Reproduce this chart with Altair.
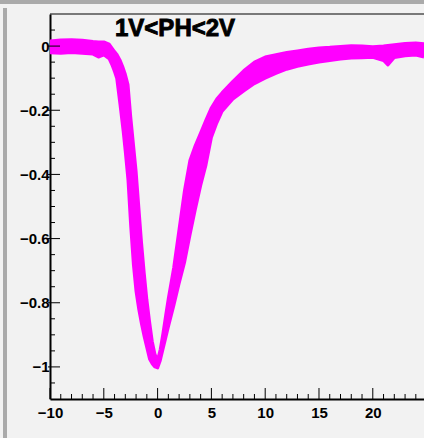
import altair as alt
import pandas as pd

# ---- data (band of overlapping pulses) ----
x_vals = [-10, -9, -8, -7, -6, -5.5, -5, -4.5, -4.2, -4, -3.8, -3.5, -3.2, -3, -2.75,
          -2.5, -2.25, -2, -1.75, -1.5, -1.25, -1, -0.75, -0.5, -0.25, 0, 0.25, 0.5, 0.75, 1,
          1.5, 2, 2.5, 3, 3.5, 4, 4.5, 5, 5.5, 6, 7, 8, 9, 10, 11, 12, 13, 14, 15, 16,
          17, 18, 19, 20, 21, 21.4, 22, 23, 24, 24.76]
band_top = [0.016, 0.019, 0.02, 0.018, 0.014, 0.013, 0.013, 0.006, -0.008, -0.017,
            -0.025, -0.043, -0.068, -0.088, -0.12, -0.22, -0.305, -0.39, -0.5, -0.61,
            -0.705, -0.79, -0.858, -0.92, -0.96, -0.978, -0.945, -0.895, -0.84, -0.786,
            -0.69, -0.57, -0.45, -0.357, -0.31, -0.27, -0.23, -0.192, -0.165, -0.145,
            -0.11, -0.077, -0.05, -0.034, -0.027, -0.02, -0.015, -0.01, -0.006, -0.004,
            -0.001, 0.001, 0.0, -0.002, 0.0, 0.002, 0.004, 0.008, 0.01, 0.007]
band_bottom = [-0.021, -0.022, -0.02, -0.022, -0.025, -0.034, -0.027, -0.04, -0.062, -0.08,
               -0.1, -0.18, -0.265, -0.33, -0.418, -0.56, -0.68, -0.765, -0.82, -0.865,
               -0.905, -0.94, -0.975, -0.99, -1.0, -1.003, -0.98, -0.945, -0.91, -0.875,
               -0.81, -0.74, -0.675, -0.59, -0.51, -0.435, -0.37, -0.285, -0.24, -0.203,
               -0.165, -0.14, -0.117, -0.1, -0.085, -0.072, -0.063, -0.056, -0.05, -0.045,
               -0.04, -0.037, -0.036, -0.035, -0.045, -0.059, -0.036, -0.03, -0.028, -0.034]

x_major = [-10, -5, 0, 5, 10, 15, 20]
x_minor = [-9, -8, -7, -6, -4, -3, -2, -1, 1, 2, 3, 4, 6, 7, 8, 9, 11, 12, 13, 14,
           16, 17, 18, 19, 21, 22, 23, 24]
y_major = [0, -0.2, -0.4, -0.6, -0.8, -1.0]
y_minor = [0.05, -0.05, -0.1, -0.15, -0.25, -0.3, -0.35, -0.45, -0.5, -0.55, -0.65,
           -0.7, -0.75, -0.85, -0.9, -0.95, -1.05]
title_text = "1V<PH<2V"

X_DOMAIN = [-10, 24.76]
Y_DOMAIN = [-1.1, 0.1]
W, H = 374, 385
MAGENTA = "#ff00ff"
FONT = "Liberation Sans"

df = pd.DataFrame({"x": x_vals, "top": band_top, "bottom": band_bottom})
xs = alt.Scale(domain=X_DOMAIN, nice=False, zero=False)
ys = alt.Scale(domain=Y_DOMAIN, nice=False, zero=False)

x_axis = alt.Axis(values=x_major, format="~g", ticks=False, grid=False, title=None,
                  domainColor="black", domainWidth=2, labelFont=FONT, labelFontSize=15,
                  labelFontWeight="bold", labelColor="black", labelPadding=6,
                  labelFlush=False, labelOverlap=False)
y_axis = alt.Axis(values=y_major, format="~g", ticks=False, grid=False, title=None,
                  domainColor="black", domainWidth=2, labelFont=FONT, labelFontSize=15,
                  labelFontWeight="bold", labelColor="black", labelPadding=1,
                  labelFlush=False, labelOverlap=False)

band = alt.Chart(df).mark_area(color=MAGENTA, clip=True, opacity=1).encode(
    x=alt.X("x:Q", scale=xs, axis=x_axis),
    y=alt.Y("top:Q", scale=ys, axis=y_axis),
    y2="bottom:Q",
)
edge_top = alt.Chart(df).mark_line(color=MAGENTA, strokeWidth=3, clip=True,
                                   strokeJoin="round").encode(
    x=alt.X("x:Q", scale=xs), y=alt.Y("top:Q", scale=ys))
edge_bot = alt.Chart(df).mark_line(color=MAGENTA, strokeWidth=3, clip=True,
                                   strokeJoin="round").encode(
    x=alt.X("x:Q", scale=xs), y=alt.Y("bottom:Q", scale=ys))

xmaj = alt.Chart(pd.DataFrame({"v": x_major})).mark_rule(color="black", strokeWidth=1).encode(
    x=alt.X("v:Q", scale=xs), y=alt.value(H), y2=alt.value(H - 11))
xmin = alt.Chart(pd.DataFrame({"v": x_minor})).mark_rule(color="black", strokeWidth=1).encode(
    x=alt.X("v:Q", scale=xs), y=alt.value(H), y2=alt.value(H - 5))
ymaj = alt.Chart(pd.DataFrame({"v": y_major})).mark_rule(color="black", strokeWidth=1).encode(
    y=alt.Y("v:Q", scale=ys), x=alt.value(-2), x2=alt.value(10))
ymin = alt.Chart(pd.DataFrame({"v": y_minor})).mark_rule(color="black", strokeWidth=1).encode(
    y=alt.Y("v:Q", scale=ys), x=alt.value(0), x2=alt.value(5))

top_frame = alt.Chart(pd.DataFrame({"v": [Y_DOMAIN[1]]})).mark_rule(
    color="black", strokeWidth=1).encode(y=alt.Y("v:Q", scale=ys))

# pad border decorations
top_bar = alt.Chart(pd.DataFrame({"v": [0]})).mark_rule(color="#aaaaaa", strokeWidth=4).encode(
    x=alt.value(-50), x2=alt.value(W), y=alt.value(-12))
left_bar = alt.Chart(pd.DataFrame({"v": [0]})).mark_rule(color="#aaaaaa", strokeWidth=4).encode(
    x=alt.value(-45), y=alt.value(-6), y2=alt.value(H + 39))

title = alt.Chart(pd.DataFrame({"t": [title_text]})).mark_text(
    font=FONT, fontSize=24, fontWeight="bold", color="black", align="left",
    baseline="alphabetic", stroke="black", strokeWidth=0.9).encode(
    text="t:N", x=alt.value(65), y=alt.value(22))

chart = alt.layer(band, edge_top, edge_bot, xmaj, xmin, ymaj, ymin, top_frame,
                  top_bar, left_bar, title).properties(
    width=W, height=H, background="#f2f2f2",
    autosize=alt.AutoSizeParams(type="none"),
    padding={"left": 50, "top": 14, "right": 0, "bottom": 39},
).configure_view(stroke=None)

chart.save("out.html", embed_options={"renderer": "svg", "actions": False})
